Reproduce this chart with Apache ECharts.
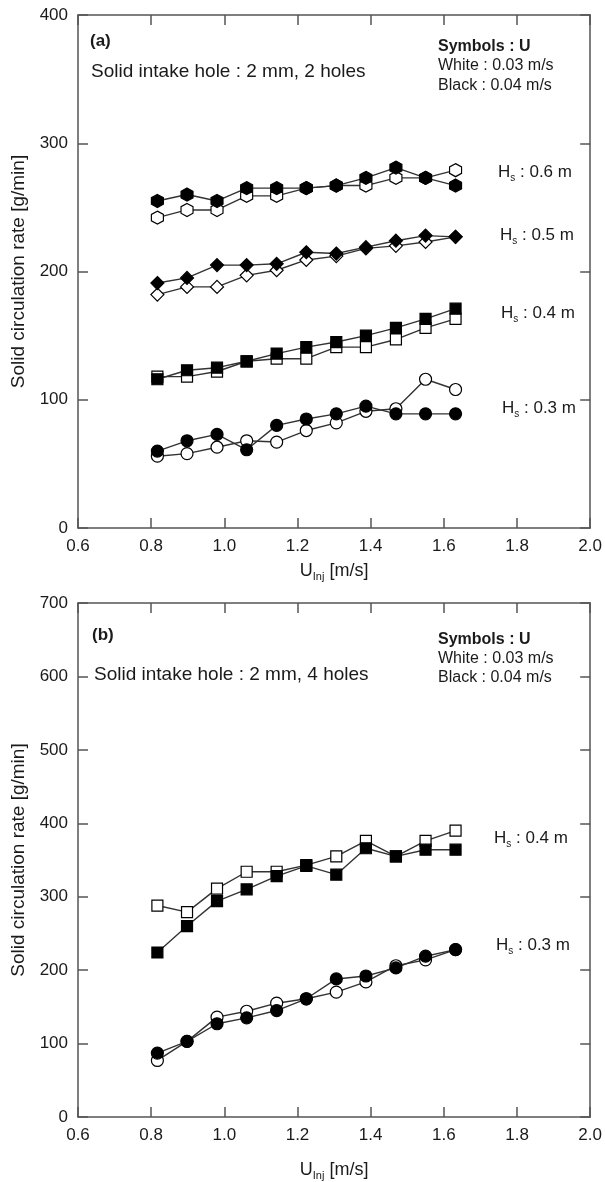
<!DOCTYPE html>
<html>
<head>
<meta charset="utf-8">
<script src="https://cdn.jsdelivr.net/npm/echarts@6/dist/echarts.min.js"></script>
<style>
  html, body { margin: 0; padding: 0; background: #fff; }
  #chart { width: 605px; height: 1182px; }
</style>
</head>
<body>
<div id="chart"></div>
<script>
// injection velocity U_Inj [m/s]
const uInj = [0.817, 0.898, 0.980, 1.061, 1.143, 1.224, 1.306, 1.387, 1.469, 1.550, 1.632];

// (a) 2 mm, 2 holes - solid circulation rate [g/min]
const a06White = [242, 248, 248, 259, 259, 265, 267, 267, 273, 273, 279];
const a06Black = [255, 260, 255, 265, 265, 265, 267, 273, 281, 273, 267];
const a05White = [182, 188, 188, 197, 201, 209, 212, 218, 220, 223, 227];
const a05Black = [191, 195, 205, 205, 206, 215, 214, 219, 224, 228, 227];
const a04White = [118, 118, 122, 130, 132, 132, 141, 141, 147, 156, 163];
const a04Black = [116, 123, 125, 130, 136, 141, 145, 150, 156, 163, 171];
const a03White = [56, 58, 63, 68, 67, 76, 82, 91, 93, 116, 108];
const a03Black = [60, 68, 73, 61, 80, 85, 89, 95, 89, 89, 89];

// (b) 2 mm, 4 holes
const b04White = [288, 279, 311, 334, 334, 343, 355, 376, 355, 376, 390];
const b04Black = [224, 260, 294, 310, 328, 342, 330, 366, 355, 364, 364];
const b03White = [77, 103, 136, 144, 155, 161, 170, 184, 206, 214, 228];
const b03Black = [87, 103, 127, 135, 145, 161, 188, 192, 203, 219, 228];

const xTicks = [0.6, 2.0, 0.2];
const yTicksA = [0, 400, 100];
const yTicksB = [0, 700, 100];

const FONT = "'Liberation Sans', Arial, sans-serif";
const TXT = '#1a1a1a';
const AXC = '#555';
const hexagon = 'path://M0,-10 L8.66,-5 L8.66,5 L0,10 L-8.66,5 L-8.66,-5 Z';

let chart = echarts.init(document.getElementById('chart'));

function pts(ys) {
  return ys.map((v, i) => [uInj[i], v]);
}

function mk(ys, idx, symbol, size, filled) {
  return {
    type: 'line',
    xAxisIndex: idx * 2,
    yAxisIndex: idx * 2,
    data: pts(ys),
    symbol: symbol,
    symbolSize: size,
    showAllSymbol: true,
    silent: true,
    z: filled ? 3 : 2,
    lineStyle: { color: '#333', width: 1.4 },
    itemStyle: {
      color: filled ? '#000' : '#fff',
      borderColor: '#000',
      borderWidth: 1.2
    }
  };
}

function xAx(grid, top, gap) {
  return {
    type: 'value',
    gridIndex: grid,
    position: top ? 'top' : 'bottom',
    min: xTicks[0], max: xTicks[1], interval: xTicks[2],
    axisLine: { show: true, onZero: false, lineStyle: { color: AXC, width: 1.5 } },
    axisTick: { show: true, inside: true, length: 10, lineStyle: { color: AXC, width: 1.5 } },
    splitLine: { show: false },
    axisLabel: {
      show: !top, margin: 10, fontSize: 17, fontFamily: FONT, color: TXT,
      formatter: (v) => v.toFixed(1)
    },
    name: top ? '' : 'U{s|Inj} [m/s]',
    nameLocation: 'middle',
    nameGap: gap,
    nameTextStyle: {
      fontSize: 18, fontFamily: FONT, color: TXT, lineHeight: 22,
      rich: { s: { fontSize: 11, fontFamily: FONT, color: TXT, lineHeight: 11, verticalAlign: 'bottom' } }
    }
  };
}

function yAx(grid, right, ticks) {
  return {
    type: 'value',
    gridIndex: grid,
    position: right ? 'right' : 'left',
    min: ticks[0], max: ticks[1], interval: ticks[2],
    axisLine: { show: true, onZero: false, lineStyle: { color: AXC, width: 1.5 } },
    axisTick: { show: true, inside: true, length: 10, lineStyle: { color: AXC, width: 1.5 } },
    splitLine: { show: false },
    axisLabel: { show: !right, margin: 10, fontSize: 17, fontFamily: FONT, color: TXT },
    name: right ? '' : 'Solid circulation rate [g/min]',
    nameLocation: 'middle',
    nameGap: 50,
    nameTextStyle: { fontSize: 19, fontFamily: FONT, color: TXT }
  };
}

function label(x, y, text, size, bold) {
  return {
    type: 'text', x: x, y: y, silent: true,
    style: {
      text: text, fontSize: size, fontFamily: FONT, fontWeight: bold ? 'bold' : 'normal',
      fill: TXT, verticalAlign: 'middle'
    }
  };
}

function hsLabel(x, y, h) {
  return {
    type: 'text', x: x, y: y, silent: true,
    style: {
      text: 'H{s|s} : ' + h + ' m',
      fontSize: 17, fontFamily: FONT, fill: TXT, lineHeight: 22, verticalAlign: 'middle',
      rich: { s: { fontSize: 10, fontFamily: FONT, fill: TXT, lineHeight: 10, verticalAlign: 'bottom' } }
    }
  };
}

let option = {
  animation: false,
  backgroundColor: '#fff',
  grid: [
    { left: 78, right: 9, top: 15, height: 513 },
    { left: 78, right: 9, top: 603, height: 514 }
  ],
  xAxis: [xAx(0, false, 32), xAx(0, true, 0), xAx(1, false, 42), xAx(1, true, 0)],
  yAxis: [yAx(0, false, yTicksA), yAx(0, true, yTicksA), yAx(1, false, yTicksB), yAx(1, true, yTicksB)],
  series: [
    mk(a06White, 0, hexagon, [12, 13], false),
    mk(a06Black, 0, hexagon, [12, 13], true),
    mk(a05White, 0, 'diamond', 13, false),
    mk(a05Black, 0, 'diamond', 13, true),
    mk(a04White, 0, 'rect', 11, false),
    mk(a04Black, 0, 'rect', 11, true),
    mk(a03White, 0, 'circle', 12, false),
    mk(a03Black, 0, 'circle', 12, true),
    mk(b04White, 1, 'rect', 11, false),
    mk(b04Black, 1, 'rect', 11, true),
    mk(b03White, 1, 'circle', 12, false),
    mk(b03Black, 1, 'circle', 12, true)
  ],
  graphic: [
    label(90, 41, '(a)', 17, true),
    label(91, 72, 'Solid intake hole : 2 mm, 2 holes', 19, false),
    label(438, 47, 'Symbols : U', 16, true),
    label(438, 66, 'White : 0.03 m/s', 16, false),
    label(438, 86, 'Black : 0.04 m/s', 16, false),
    hsLabel(498, 172, '0.6'),
    hsLabel(500, 235, '0.5'),
    hsLabel(501, 313, '0.4'),
    hsLabel(502, 408, '0.3'),
    label(92, 635, '(b)', 17, true),
    label(94, 675, 'Solid intake hole : 2 mm, 4 holes', 19, false),
    label(438, 640, 'Symbols : U', 16, true),
    label(438, 659, 'White : 0.03 m/s', 16, false),
    label(438, 678, 'Black : 0.04 m/s', 16, false),
    hsLabel(494, 838, '0.4'),
    hsLabel(496, 945, '0.3')
  ]
};

chart.setOption(option);
</script>
</body>
</html>
